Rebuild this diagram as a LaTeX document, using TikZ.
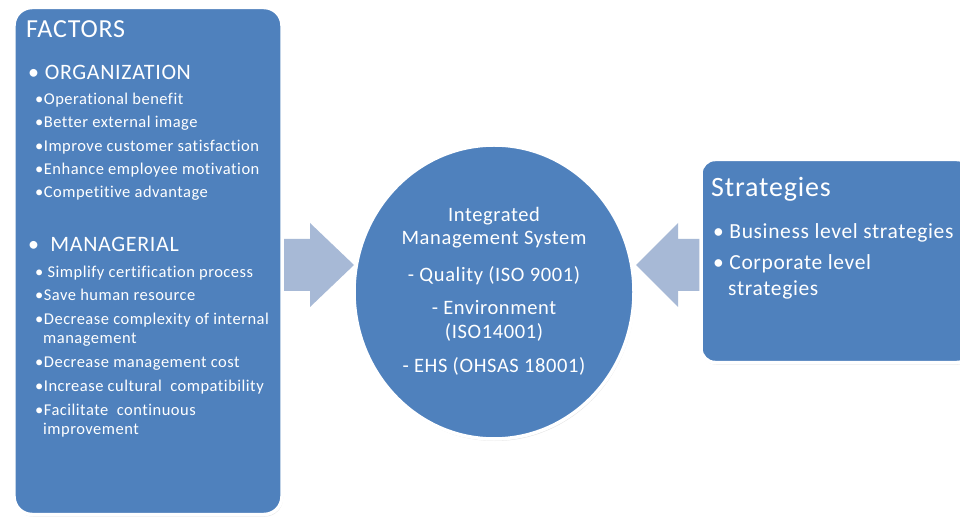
\documentclass[tikz,border=0pt]{standalone}
\usepackage{fontspec}
\setmainfont{Carlito}[Ligatures=NoCommon, LetterSpace=3]
\usetikzlibrary{shadows,shapes.geometric}

\definecolor{imsblue}{RGB}{79,129,189}
\definecolor{arrowblue}{RGB}{167,185,214}

\tikzset{
  panel/.style={fill=imsblue, draw=white, line width=3.5bp,
    drop shadow={opacity=0.22, shadow xshift=1bp, shadow yshift=-2bp}},
  blockarrow/.style={fill=arrowblue, draw=none},
  label/.style={text=white, anchor=base west, inner sep=0pt},
  mid/.style={text=white, anchor=base, inner sep=0pt},
}

\begin{document}
\begin{tikzpicture}[x=1bp, y=-1bp]
			%%%%% START %%%%%
			\useasboundingbox[fill=white] (0, 0) rectangle (960, 520);
			
			% block arrows, drawn first so the panels cover their ends
			\fill[blockarrow] (278, 239) -- (310, 239) -- (310, 223) -- (354, 265)
			  -- (310, 307) -- (310, 291) -- (278, 291) -- cycle;
			\fill[blockarrow] (710, 239) -- (678, 239) -- (678, 223) -- (636, 265)
			  -- (678, 307) -- (678, 291) -- (710, 291) -- cycle;
			
			% left panel
			\node[panel, rounded corners=18bp, minimum width=268bp, minimum height=507bp] (factors) at (148, 261) {};
			
			\node[label, font=\fontsize{26bp}{30bp}\selectfont] (fac-title) at (26, 38) {FACTORS};
			
			\node[label, font=\fontsize{22bp}{26bp}\selectfont] (fac-org) at (28, 80) {• ORGANIZATION};
			\node[label, font=\fontsize{16.5bp}{20bp}\selectfont] (org-a) at (35, 105) {•Operational benefit};
			\node[label, font=\fontsize{16.5bp}{20bp}\selectfont] (org-b) at (35, 128) {•Better external image};
			\node[label, font=\fontsize{16.5bp}{20bp}\selectfont] (org-c) at (35, 152) {•Improve customer satisfaction};
			\node[label, font=\fontsize{16.5bp}{20bp}\selectfont] (org-d) at (35, 175) {•Enhance employee motivation};
			\node[label, font=\fontsize{16.5bp}{20bp}\selectfont] (org-e) at (35, 198) {•Competitive advantage};
			
			\node[label, font=\fontsize{22bp}{26bp}\selectfont] (fac-man) at (28, 252) {•\ \ MANAGERIAL};
			\node[label, font=\fontsize{16.5bp}{20bp}\selectfont] (man-a) at (35, 278) {• Simplify certification process};
			\node[label, font=\fontsize{16.5bp}{20bp}\selectfont] (man-b) at (35, 301) {•Save human resource};
			\node[label, font=\fontsize{16.5bp}{20bp}\selectfont] (man-c) at (35, 325) {•Decrease complexity of internal};
			\node[label, font=\fontsize{16.5bp}{20bp}\selectfont] (man-c2) at (43, 344) {management};
			\node[label, font=\fontsize{16.5bp}{20bp}\selectfont] (man-d) at (35, 368) {•Decrease management cost};
			\node[label, font=\fontsize{16.5bp}{20bp}\selectfont] (man-e) at (35, 391) {•Increase cultural \ compatibility};
			\node[label, font=\fontsize{16.5bp}{20bp}\selectfont] (man-f) at (35, 415) {•Facilitate \ continuous};
			\node[label, font=\fontsize{16.5bp}{20bp}\selectfont] (man-f2) at (43, 434) {improvement};
			
			% centre disc
			\node[panel, ellipse, inner sep=0pt, minimum width=280bp, minimum height=294bp] (ims) at (494, 292) {};
			\node[mid, font=\fontsize{20.5bp}{24bp}\selectfont] (ims-a) at (494, 222) {Integrated};
			\node[mid, font=\fontsize{20.5bp}{24bp}\selectfont] (ims-b) at (494, 245) {Management System};
			\node[mid, font=\fontsize{20.5bp}{24bp}\selectfont] (ims-c) at (494, 282) {- Quality (ISO 9001)};
			\node[mid, font=\fontsize{20.5bp}{24bp}\selectfont] (ims-d) at (494, 315) {- Environment};
			\node[mid, font=\fontsize{20.5bp}{24bp}\selectfont] (ims-e) at (494, 339) {(ISO14001)};
			\node[mid, font=\fontsize{20.5bp}{24bp}\selectfont] (ims-f) at (494, 373) {- EHS (OHSAS 18001)};
			
			% right panel, runs past the edge
			\node[panel, rounded corners=14bp, minimum width=270bp, minimum height=203bp] (strat) at (836, 261) {};
			\node[label, font=\fontsize{28bp}{33bp}\selectfont] (strat-title) at (711, 197) {Strategies};
			\node[label, font=\fontsize{21.5bp}{25bp}\selectfont] (strat-a) at (713, 239) {•\ Business level strategies};
			\node[label, font=\fontsize{21.5bp}{25bp}\selectfont] (strat-b) at (713, 270) {•\ Corporate level};
			\node[label, font=\fontsize{21.5bp}{25bp}\selectfont] (strat-b2) at (728, 296) {strategies};
			
			%%%%% END %%%%%
\end{tikzpicture}
\end{document}
